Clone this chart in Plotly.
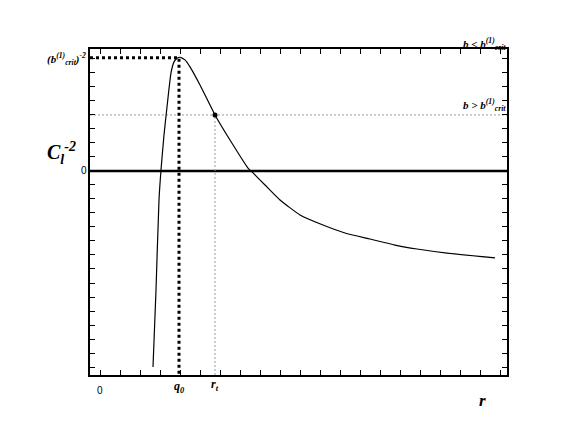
import plotly.graph_objects as go

# curve C_l^-2 as function of r (data units)
r_curve = [2.65, 2.8, 2.95, 3.05, 3.2, 3.35, 3.55, 3.7, 3.85, 4.0, 4.25, 4.5, 5.0,
           5.75, 6.5, 7.4, 7.6, 8.25, 9.0, 10.0, 11.15, 12.25, 13.5, 14.75, 15.85,
           17.35, 19.75]
c_curve = [-14.0, -8.5, -2.07, 0.07, 2.57, 4.57, 7.0, 7.79, 8.05, 8.12, 7.93, 7.43, 6.14,
           4.0, 2.21, 0.21, -0.07, -1.0, -2.07, -3.14, -3.86, -4.43, -4.86, -5.29, -5.57,
           -5.86, -6.21]

q0 = 3.95
rt = 5.75
crit_level = 8.08
rt_level = 4.0
x_range = [-0.5, 20.35]
y_range = [-14.57, 8.71]

SERIF = "Liberation Serif"

fig = go.Figure()
# zero line
fig.add_trace(go.Scatter(x=x_range, y=[0, 0], mode="lines",
                         line=dict(color="black", width=2.5), hoverinfo="skip"))
# thin gray dotted guides for r_t
fig.add_trace(go.Scatter(x=[x_range[0], x_range[1]], y=[rt_level, rt_level], mode="lines",
                         line=dict(color="#999999", width=1, dash="2px,2px"), hoverinfo="skip"))
fig.add_trace(go.Scatter(x=[rt, rt], y=[y_range[0], rt_level], mode="lines",
                         line=dict(color="#999999", width=1, dash="2px,2px"), hoverinfo="skip"))
# thick dotted guides for q0
fig.add_trace(go.Scatter(x=[x_range[0], q0, q0], y=[crit_level, crit_level, y_range[0]],
                         mode="lines", line=dict(color="black", width=3, dash="dot"),
                         hoverinfo="skip"))
# curve
fig.add_trace(go.Scatter(x=r_curve, y=c_curve, mode="lines",
                         line=dict(color="black", width=1.2, shape="spline", smoothing=0.5),
                         hoverinfo="skip"))
# point at r_t
fig.add_trace(go.Scatter(x=[rt], y=[rt_level], mode="markers",
                         marker=dict(color="black", size=5), hoverinfo="skip"))

axis_common = dict(showgrid=False, zeroline=False, showline=True, linecolor="black",
                   linewidth=1.5, mirror="ticks", ticks="inside", ticklen=5,
                   tickcolor="black", tickwidth=1, showticklabels=False)
fig.update_xaxes(range=x_range, dtick=1, tick0=0, **axis_common)
fig.update_yaxes(range=y_range, dtick=1, tick0=0, **axis_common)


def to_paper(x, y):
    return ((x - x_range[0]) / (x_range[1] - x_range[0]),
            (y - y_range[0]) / (y_range[1] - y_range[0]))


def label(x, y, text, size, family=SERIF, xanchor="center"):
    px, py = to_paper(x, y)
    fig.add_annotation(x=px, y=py, xref="paper", yref="paper", text=text, showarrow=False,
                       font=dict(size=size, family=family, color="black"),
                       xanchor=xanchor, yanchor="middle")


label(-1.95, 1.3, "<b><i>C<sub>l</sub><sup>-2</sup></i></b>", 20)
label(-0.6, 8.0, "<b><i>(b<sup>(1)</sup><sub>crit</sub>)<sup>-2</sup></i></b>", 11,
      xanchor="right")
label(-0.55, 0, "0", 10, family="Liberation Sans", xanchor="right")
label(20.4, 9.1, "<b><i>b &lt; b<sup>(1)</sup><sub>crit</sub></i></b>", 11, xanchor="right")
label(20.4, 4.7, "<b><i>b &gt; b<sup>(1)</sup><sub>crit</sub></i></b>", 11, xanchor="right")
label(0, -15.7, "0", 10, family="Liberation Sans")
label(q0, -15.45, "<b><i>q<sub>0</sub></i></b>", 12)
label(rt, -15.3, "<b><i>r<sub>t</sub></i></b>", 12)
label(19.1, -16.4, "<b><i>r</i></b>", 17)

fig.update_layout(width=571, height=444, showlegend=False,
                  margin=dict(l=82, r=72, t=41, b=77),
                  paper_bgcolor="white", plot_bgcolor="white")

fig.write_html("out.html")
